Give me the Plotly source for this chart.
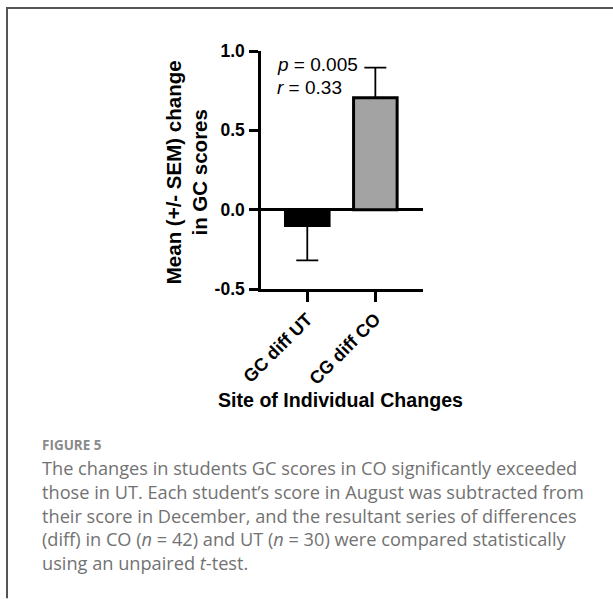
import plotly.graph_objects as go

# ---- data ----
categories = ["GC diff UT", "CG diff CO"]
means = [-0.10, 0.705]
sem_up = [0.0, 0.19]
sem_down = [0.22, 0.0]
bar_colors = ["#000000", "#a3a3a3"]
y_tickvals = [-0.5, 0.0, 0.5, 1.0]
y_ticktext = ["-0.5", "0.0", "0.5", "1.0"]
stat_lines = ["<i>p</i> = 0.005", "<i>r</i> = 0.33"]
caption_head = "FIGURE 5"
caption_lines = [
    "The changes in students GC scores in CO significantly exceeded",
    "those in UT. Each student\u2019s score in August was subtracted from",
    "their score in December, and the resultant series of differences",
    "(diff) in CO (<i>n</i> = 42) and UT (<i>n</i> = 30) were compared statistically",
    "using an unpaired <i>t</i>-test.",
]

# ---- layout geometry (pixels) ----
W, H = 613, 599
L, R, T, B = 261, 423, 50.5, 289


def px(x):
    return (x - L) / (R - L)


def py(y):
    return (B - y) / (B - T)


ARIAL = "Liberation Sans, Arial, sans-serif"
CAP = "Open Sans, Lato, sans-serif"

fig = go.Figure()
fig.add_trace(go.Bar(
    x=categories, y=means, width=0.64,
    marker=dict(color=bar_colors, line=dict(color="#000000", width=3)),
    error_y=dict(type="data", symmetric=False, array=sem_up, arrayminus=sem_down,
                 color="#000000", thickness=1.8, width=11),
    showlegend=False,
))

annotations = []
# y-axis title
annotations.append(dict(
    text="<b>Mean (+/- SEM) change<br>in GC scores</b>", textangle=-90,
    x=px(187), y=py(172), xref="paper", yref="paper", showarrow=False,
    xanchor="center", yanchor="middle",
    font=dict(family=ARIAL, size=20.5, color="#000000"),
))
# x-axis title
annotations.append(dict(
    text="<b>Site of Individual Changes</b>",
    x=px(340), y=py(400), xref="paper", yref="paper", showarrow=False,
    xanchor="center", yanchor="middle",
    font=dict(family=ARIAL, size=19.6, color="#000000"),
))
# stats text
for i, s in enumerate(stat_lines):
    annotations.append(dict(
        text=s, x=px(275), y=py(64 + 23 * i), xref="paper", yref="paper",
        showarrow=False, xanchor="left", yanchor="middle",
        font=dict(family=ARIAL, size=19, color="#000000"),
    ))
# caption
annotations.append(dict(
    text="<b>" + caption_head + "</b>", x=px(40), y=py(445), xref="paper", yref="paper",
    showarrow=False, xanchor="left", yanchor="middle",
    font=dict(family=CAP, size=13.5, color="#8a8a8a"),
))
for i, s in enumerate(caption_lines):
    annotations.append(dict(
        text=s, x=px(40), y=py(468 + 24 * i), xref="paper", yref="paper",
        showarrow=False, xanchor="left", yanchor="middle",
        font=dict(family=CAP, size=18.2, color="#727272"),
    ))

shapes = [
    dict(type="line", xref="paper", yref="paper", x0=px(6), x1=px(613), y0=py(7.5), y1=py(7.5),
         line=dict(color="#555555", width=2)),
    dict(type="line", xref="paper", yref="paper", x0=px(7), x1=px(7), y0=py(7), y1=py(599),
         line=dict(color="#555555", width=2)),
]

fig.update_layout(
    width=W, height=H, autosize=False,
    margin=dict(l=L, r=W - R, t=T, b=H - B, pad=0),
    paper_bgcolor="white", plot_bgcolor="white",
    annotations=annotations, shapes=shapes,
    bargap=0.3,
    xaxis=dict(
        type="category", range=[-0.68, 1.70],
        showline=True, linecolor="#000000", linewidth=2.5,
        ticks="outside", ticklen=10, tickwidth=2.5, tickcolor="#000000",
        tickangle=-45, showgrid=False, zeroline=False,
        tickfont=dict(family=ARIAL, size=18, color="#000000", weight=700),
    ),
    yaxis=dict(
        range=[-0.5, 1.0], tickvals=y_tickvals, ticktext=y_ticktext,
        showline=True, linecolor="#000000", linewidth=2.5,
        ticks="outside", ticklen=9, tickwidth=2.5, tickcolor="#000000",
        showgrid=False, zeroline=True, zerolinecolor="#000000", zerolinewidth=2.5,
        ticklabelstandoff=1,
        tickfont=dict(family=ARIAL, size=17.5, color="#000000", weight=700),
    ),
)

fig.write_html("out.html")
